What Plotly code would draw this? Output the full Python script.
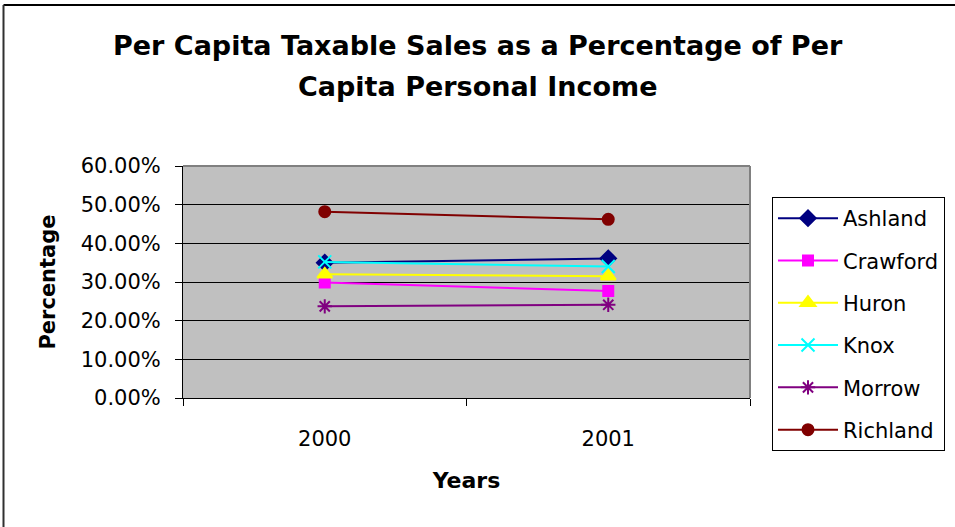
import plotly.graph_objects as go

# Data
years = ["2000", "2001"]
ashland = [0.350, 0.361]
crawford = [0.299, 0.277]
huron = [0.320, 0.315]
knox = [0.352, 0.340]
morrow = [0.237, 0.241]
richland = [0.482, 0.462]

series = [
    ("Ashland", ashland, "#000080", "diamond", 12),
    ("Crawford", crawford, "#FF00FF", "square", 10),
    ("Huron", huron, "#FFFF00", "triangle-up", 13),
    ("Knox", knox, "#00FFFF", "x-thin-open", 13),
    ("Morrow", morrow, "#800080", "asterisk-open", 12),
    ("Richland", richland, "#800000", "circle", 11),
]

fig = go.Figure()
for i, (name, vals, color, symbol, size) in enumerate(series):
    fig.add_trace(go.Scatter(
        x=years, y=vals, name=name, mode="lines+markers",
        line=dict(color=color, width=2),
        marker=dict(symbol=symbol, size=size, color=color,
                    line=dict(color=color, width=2)),
        legendgroup=f"g{i}",
    ))

# plot-area geometry in pixels
W, H = 955, 527
L, R, T, B = 183, 750, 166, 398
pw, ph = R - L, B - T


def px(x):
    return (x - L) / pw


def py(y):
    return (B - y) / ph


font = "DejaVu Sans, Arial, sans-serif"

fig.update_layout(
    width=W, height=H,
    margin=dict(l=L, r=W - R, t=T, b=H - B, autoexpand=False),
    paper_bgcolor="white",
    plot_bgcolor="#C0C0C0",
    font=dict(family=font, color="black", size=21),
    showlegend=True,
    legend=dict(
        x=px(772), y=py(197), xanchor="left", yanchor="top",
        bordercolor="black", borderwidth=1, bgcolor="white",
        font=dict(size=21, family=font),
        itemwidth=60, tracegroupgap=12, traceorder="grouped",
        maxheight=320,
    ),
    xaxis=dict(
        type="category", range=[-0.5, 1.5],
        tickson="boundaries", ticks="outside", ticklen=7, tickcolor="black",
        showline=True, linecolor="black", linewidth=1,
        showgrid=False, zeroline=False,
        tickfont=dict(size=21), ticklabelstandoff=22,
        title=dict(text="<b>Years</b>", font=dict(size=22), standoff=22),
    ),
    yaxis=dict(
        range=[0, 0.6], dtick=0.1, tickformat=".2%",
        ticks="outside", ticklen=7, tickcolor="black",
        showline=True, linecolor="black", linewidth=1,
        showgrid=True, gridcolor="black", gridwidth=1,
        zeroline=False,
        tickfont=dict(size=21), ticklabelstandoff=10,
        title=dict(text="<b>Percentage</b>", font=dict(size=21), standoff=19),
    ),
)

# chart title, two lines
fig.add_annotation(
    x=px(478), y=py(45), xref="paper", yref="paper",
    text="<b>Per Capita Taxable Sales as a Percentage of Per</b>",
    showarrow=False, font=dict(size=27, family=font), xanchor="center", yanchor="middle",
)
fig.add_annotation(
    x=px(478), y=py(86), xref="paper", yref="paper",
    text="<b>Capita Personal Income</b>",
    showarrow=False, font=dict(size=27, family=font), xanchor="center", yanchor="middle",
)

# plot-area frame (top/right gray)
fig.add_shape(type="line", xref="paper", yref="paper", x0=0, x1=1, y0=1, y1=1,
              line=dict(color="#808080", width=2))
fig.add_shape(type="line", xref="paper", yref="paper", x0=1, x1=1, y0=0, y1=1,
              line=dict(color="#808080", width=2))

# outer chart border (top and left edges)
fig.add_shape(type="line", xref="paper", yref="paper",
              x0=px(3.5), x1=px(960), y0=py(5), y1=py(5),
              line=dict(color="black", width=2))
fig.add_shape(type="line", xref="paper", yref="paper",
              x0=px(3.5), x1=px(3.5), y0=py(5), y1=py(540),
              line=dict(color="#303030", width=2))

fig.write_html("out.html")
